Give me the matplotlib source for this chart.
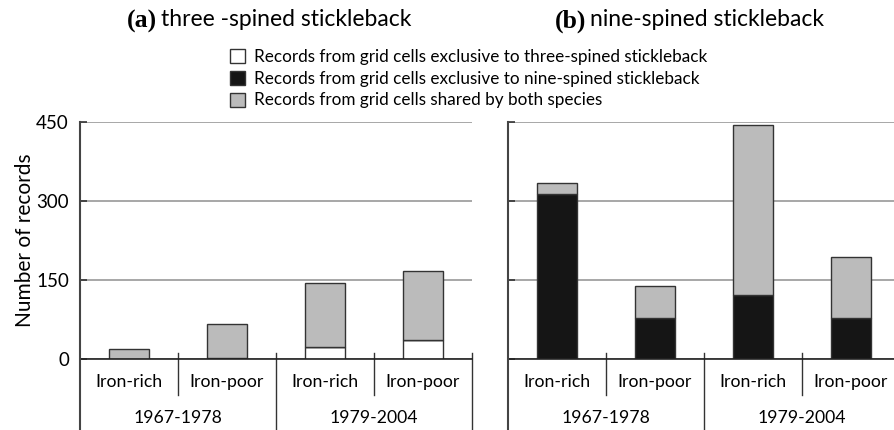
import matplotlib.pyplot as plt
import matplotlib.transforms as mtransforms
from matplotlib.patches import Patch

categories = ['Iron-rich', 'Iron-poor', 'Iron-rich', 'Iron-poor']
periods = ['1967-1978', '1979-2004']

# (a) three-spined stickleback
three_excl3 = [0, 0, 23, 36]
three_excl9 = [0, 2, 0, 0]
three_shared = [19, 64, 121, 132]

# (b) nine-spined stickleback
nine_excl3 = [0, 0, 0, 0]
nine_excl9 = [314, 78, 121, 78]
nine_shared = [21, 61, 323, 116]

legend_labels = ['Records from grid cells exclusive to three-spined stickleback',
                 'Records from grid cells exclusive to nine-spined stickleback',
                 'Records from grid cells shared by both species']

plt.rcParams['font.family'] = ['Lato', 'DejaVu Sans']

W, H = 894, 430
fig = plt.figure(figsize=(W / 100, H / 100), dpi=100)

c_white, c_black, c_grey = 'white', '#151515', '#bbbbbb'
edge = '#333333'


def draw_panel(ax, excl3, excl9, shared, show_labels):
    x = range(len(categories))
    b1 = excl3
    b2 = [a + b for a, b in zip(excl3, excl9)]
    ax.bar(x, excl3, 0.4, color=c_white, edgecolor=edge, linewidth=1, zorder=3)
    ax.bar(x, excl9, 0.4, bottom=b1, color=c_black, edgecolor=edge, linewidth=1, zorder=3)
    ax.bar(x, shared, 0.4, bottom=b2, color=c_grey, edgecolor=edge, linewidth=1, zorder=3)
    ax.set_xlim(-0.5, 3.5)
    ax.set_ylim(0, 450)
    ax.set_yticks([0, 150, 300, 450])
    ax.yaxis.grid(True, color='#a0a0a0', linewidth=1.3, zorder=0)
    ax.set_axisbelow(True)
    for s in ['top', 'right', 'left']:
        ax.spines[s].set_visible(False)
    ax.spines['bottom'].set_color('#222222')
    ax.spines['bottom'].set_linewidth(1.2)
    ax.spines['bottom'].set_zorder(4)
    ax.tick_params(axis='y', direction='in', length=5, width=1.2, color='#333333',
                   labelsize=13.5, pad=8, labelleft=show_labels)
    ax.set_xticks(list(x))
    ax.set_xticklabels(categories, fontsize=12.7)
    ax.tick_params(axis='x', length=0, pad=11)
    trans = mtransforms.blended_transform_factory(ax.transData, ax.transAxes)
    # y spine extending down past the labels
    ax.plot([-0.5, -0.5], [1, -0.31], transform=trans, color='#444444',
            linewidth=1.5, clip_on=False, zorder=5)
    # separators
    for xs in [0.5, 2.5]:
        ax.plot([xs, xs], [0.025, -0.152], transform=trans, color='#333333',
                linewidth=1, clip_on=False)
    for xs in [1.5, 3.5]:
        ax.plot([xs, xs], [0.025, -0.31], transform=trans, color='#333333',
                linewidth=1, clip_on=False)
    for px, lab in zip([0.5, 2.5], periods):
        ax.text(px, -0.249, lab, transform=trans, ha='center', va='center',
                fontsize=12.7)


axl = fig.add_axes([80 / W, (H - 359) / H, 392 / W, 237 / H])
axr = fig.add_axes([508 / W, (H - 359) / H, 392 / W, 237 / H])
draw_panel(axl, three_excl3, three_excl9, three_shared, True)
draw_panel(axr, nine_excl3, nine_excl9, nine_shared, False)
axl.set_ylabel('Number of records', fontsize=15, labelpad=1)

# titles
fig.text(157 / W, 1 - 21 / H, '(a)', family='Liberation Serif', weight='bold',
         fontsize=18.5, ha='right', va='center')
fig.text(161 / W, 1 - 20 / H, 'three -spined stickleback', fontsize=16.5,
         ha='left', va='center')
fig.text(586 / W, 1 - 21 / H, '(b)', family='Liberation Serif', weight='bold',
         fontsize=18.5, ha='right', va='center')
fig.text(590 / W, 1 - 20 / H, 'nine-spined stickleback', fontsize=16.5,
         ha='left', va='center')

handles = [Patch(facecolor=c, edgecolor=edge, linewidth=1) for c in (c_white, c_black, c_grey)]
fig.legend(handles, legend_labels, loc='upper left', bbox_to_anchor=(221 / W, 1 - 40 / H),
           frameon=False, fontsize=12.3, handlelength=0.9, handleheight=0.9,
           handletextpad=0.55, labelspacing=0.35, borderpad=0)

fig.savefig('out.png', dpi=100)
